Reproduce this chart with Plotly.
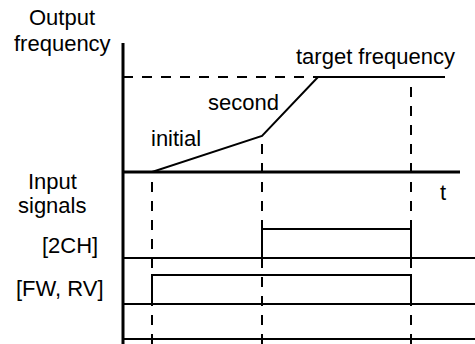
import plotly.graph_objects as go

# --- data: times along t, frequency in % of target ---
freq_time = [0, 2.9, 13.9, 19.5, 32.2]
freq_value = [0, 0, 38, 100, 100]
target_freq = 100
t_axis_end = 33.7

# input signals (0 = off, 1 = on)
ch2_time = [13.9, 13.9, 28.8, 28.8]
ch2_level = [0, 1, 1, 0]
fw_time = [2.9, 2.9, 28.8, 28.8]
fw_level = [0, 1, 1, 0]

# dashed guide lines: time and the frequency they start from
guide_time = [2.9, 13.9, 28.8]
guide_freq = [0, 38, 100]

# --- layout ---
X_RANGE = [-12.3, 35.2]
FREQ_DOMAIN = [0.5, 0.875]
FREQ_RANGE = [0, 135.8]
SIG_DOMAIN = [0, 0.5]
SIG_RANGE = [-0.172, 5.759]
ROW_2CH = 2.793
ROW_FW = 1.207
ROW_BOTTOM = 0
DASH = "10px,9px"
FONT = dict(family="Liberation Sans, Arial, sans-serif", size=22, color="black")


def freq_to_paper(f):
    frac = (f - FREQ_RANGE[0]) / (FREQ_RANGE[1] - FREQ_RANGE[0])
    return FREQ_DOMAIN[0] + frac * (FREQ_DOMAIN[1] - FREQ_DOMAIN[0])


fig = go.Figure()

# frequency curve
fig.add_trace(go.Scatter(x=freq_time, y=freq_value, mode="lines",
                         line=dict(color="black", width=2), hoverinfo="skip"))
# dashed target level
fig.add_trace(go.Scatter(x=[0, freq_time[3]], y=[target_freq, target_freq], mode="lines",
                         line=dict(color="black", width=2, dash=DASH), hoverinfo="skip"))

# signal pulses
fig.add_trace(go.Scatter(x=ch2_time, y=[ROW_2CH + v for v in ch2_level], mode="lines",
                         line=dict(color="black", width=2), yaxis="y2", hoverinfo="skip"))
fig.add_trace(go.Scatter(x=fw_time, y=[ROW_FW + v for v in fw_level], mode="lines",
                         line=dict(color="black", width=2), yaxis="y2", hoverinfo="skip"))

shapes = []
# signal baselines
for row in [ROW_2CH, ROW_FW, ROW_BOTTOM]:
    shapes.append(dict(type="line", xref="x", yref="y2", x0=0, x1=X_RANGE[1], y0=row, y1=row,
                       line=dict(color="black", width=2)))
# dashed guides
for t, f in zip(guide_time, guide_freq):
    shapes.append(dict(type="line", xref="x", yref="paper", x0=t, x1=t, y0=0, y1=freq_to_paper(f),
                       line=dict(color="black", width=2, dash=DASH)))
# frequency axis (time axis)
shapes.append(dict(type="line", xref="x", yref="paper", x0=0, x1=t_axis_end,
                   y0=freq_to_paper(0), y1=freq_to_paper(0),
                   line=dict(color="black", width=3)))
# vertical axis
shapes.append(dict(type="line", xref="x", yref="paper", x0=0, x1=0, y0=0, y1=FREQ_DOMAIN[1],
                   line=dict(color="black", width=3)))

annotations = [
    dict(text="Output", x=62 / 475, y=1 - 18 / 344),
    dict(text="frequency", x=62 / 475, y=1 - 43 / 344),
    dict(text="Input", x=52 / 475, y=1 - 181 / 344),
    dict(text="signals", x=52 / 475, y=1 - 206 / 344),
    dict(text="[2CH]", x=70 / 475, y=1 - 245 / 344),
    dict(text="[FW, RV]", x=59.5 / 475, y=1 - 288 / 344),
    dict(text="initial", x=176 / 475, y=1 - 138 / 344),
    dict(text="second", x=244 / 475, y=1 - 102 / 344),
    dict(text="target frequency", x=375 / 475, y=1 - 56 / 344),
    dict(text="t", x=443 / 475, y=1 - 192 / 344),
]
for a in annotations:
    a.update(xref="paper", yref="paper", showarrow=False, xanchor="center", yanchor="middle", font=FONT)

fig.update_layout(
    width=475, height=344,
    margin=dict(l=0, r=0, t=0, b=0),
    paper_bgcolor="white", plot_bgcolor="white",
    showlegend=False,
    xaxis=dict(range=X_RANGE, visible=False, fixedrange=True),
    yaxis=dict(range=FREQ_RANGE, domain=FREQ_DOMAIN, visible=False, fixedrange=True),
    yaxis2=dict(range=SIG_RANGE, domain=SIG_DOMAIN, visible=False, fixedrange=True),
    shapes=shapes,
    annotations=annotations,
)

fig.write_html("out.html", config={"displayModeBar": False},
               post_script="document.body.style.margin='0';")
